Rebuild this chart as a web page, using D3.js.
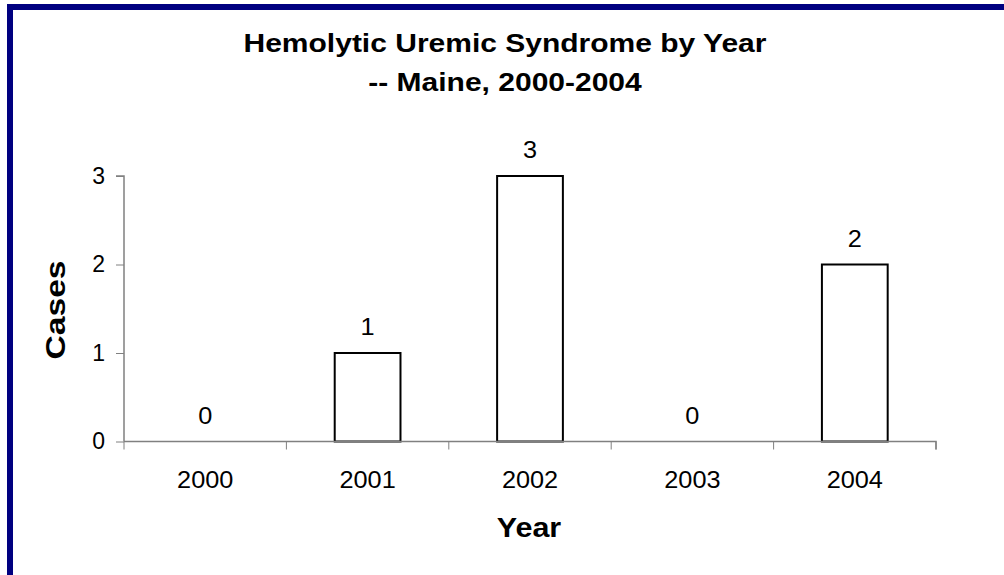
<!DOCTYPE html>
<html>
<head>
<meta charset="utf-8">
<script src="https://cdn.jsdelivr.net/npm/d3@7"></script>
<style>
  body { margin: 0; background: #fff; }
  text { font-family: Arial, "Liberation Sans", sans-serif; fill: #000; }
</style>
</head>
<body>
<script>
const years = ["2000", "2001", "2002", "2003", "2004"];
const cases = [0, 1, 3, 0, 2];
const yTicks = [0, 1, 2, 3];
const titleLines = ["Hemolytic Uremic Syndrome by Year", "-- Maine, 2000-2004"];

const width = 1004;
const height = 575;
const margin = { top: 176, right: 68, bottom: 133, left: 124 };

const svg = d3
  .select("body")
  .append("svg")
  .attr("width", width)
  .attr("height", height);

// navy frame, only left + top edges are in view
svg.append("rect").attr("x", 7).attr("y", 4).attr("width", width).attr("height", 6).attr("fill", "#000080");
svg.append("rect").attr("x", 7).attr("y", 4).attr("width", 6).attr("height", height).attr("fill", "#000080");

const x = d3
  .scaleBand()
  .domain(years)
  .range([margin.left, width - margin.right]);

const y = d3
  .scaleLinear()
  .domain([0, 3])
  .range([height - margin.bottom - 0.5, margin.top]);

const barW = x.bandwidth() * 0.405;
const rows = years.map((yr, i) => ({ year: yr, value: cases[i] }));

// the original glyphs are wider than Liberation Sans, so stretch along the text
function label(sel, tx, ty, size, sx, bold, rot) {
  return sel
    .append("text")
    .attr("transform", `translate(${tx},${ty})${rot ? " rotate(-90)" : ""} scale(${sx},1)`)
    .attr("text-anchor", "middle")
    .attr("font-size", size)
    .attr("font-weight", bold ? "bold" : null);
}

// title
titleLines.forEach((t, i) => {
  label(svg, 505, 52 + i * 39, 25, 1.2, true).text(t);
});

// bars
svg
  .append("g")
  .selectAll("rect")
  .data(rows.filter((d) => d.value > 0))
  .join("rect")
  .attr("x", (d) => x(d.year) + (x.bandwidth() - barW) / 2)
  .attr("y", (d) => y(d.value))
  .attr("width", barW)
  .attr("height", (d) => y(0) - y(d.value))
  .attr("fill", "#fff")
  .attr("stroke", "#000")
  .attr("stroke-width", 2);

// value labels
const vals = svg.append("g");
rows.forEach((d) => {
  label(vals, x(d.year) + x.bandwidth() / 2, y(d.value) - 18, 23, 1.1, false).text(d.value);
});

// y axis
const yAxis = svg
  .append("g")
  .attr("transform", `translate(${margin.left},0)`)
  .call(d3.axisLeft(y).tickValues(yTicks).tickSize(8).tickPadding(11).tickFormat(d3.format("d")));

// x axis, ticks sit on the category boundaries
const xAxis = svg
  .append("g")
  .attr("transform", `translate(0,${y(0)})`)
  .call(d3.axisBottom(x).tickSize(0).tickPadding(30));

xAxis
  .selectAll(".bound")
  .data(d3.range(years.length + 1))
  .join("line")
  .attr("class", "bound")
  .attr("x1", (i) => margin.left + i * x.bandwidth())
  .attr("x2", (i) => margin.left + i * x.bandwidth())
  .attr("y1", 0)
  .attr("y2", 8)
  .attr("stroke", "#808080");

[yAxis, xAxis].forEach((ax) => {
  ax.select(".domain").attr("stroke", "#808080").attr("stroke-width", 1.5);
  ax.selectAll(".tick line").attr("stroke", "#808080");
  ax.selectAll(".tick text").attr("font-size", 23).attr("fill", "#000");
  ax.attr("font-family", null);
});
yAxis.select(".domain").attr("d", `M-8,${y(3)}H0V${y(0)}`);
xAxis.select(".domain").attr("d", `M${margin.left},0H${width - margin.right}V8`);
xAxis.selectAll(".tick text").attr("transform", "scale(1.1,1)");

// axis titles
label(svg, 529, 537, 27, 1.13, true).text("Year");
label(svg, 65, 310, 28, 1.2, true, true).text("Cases");
</script>
</body>
</html>
